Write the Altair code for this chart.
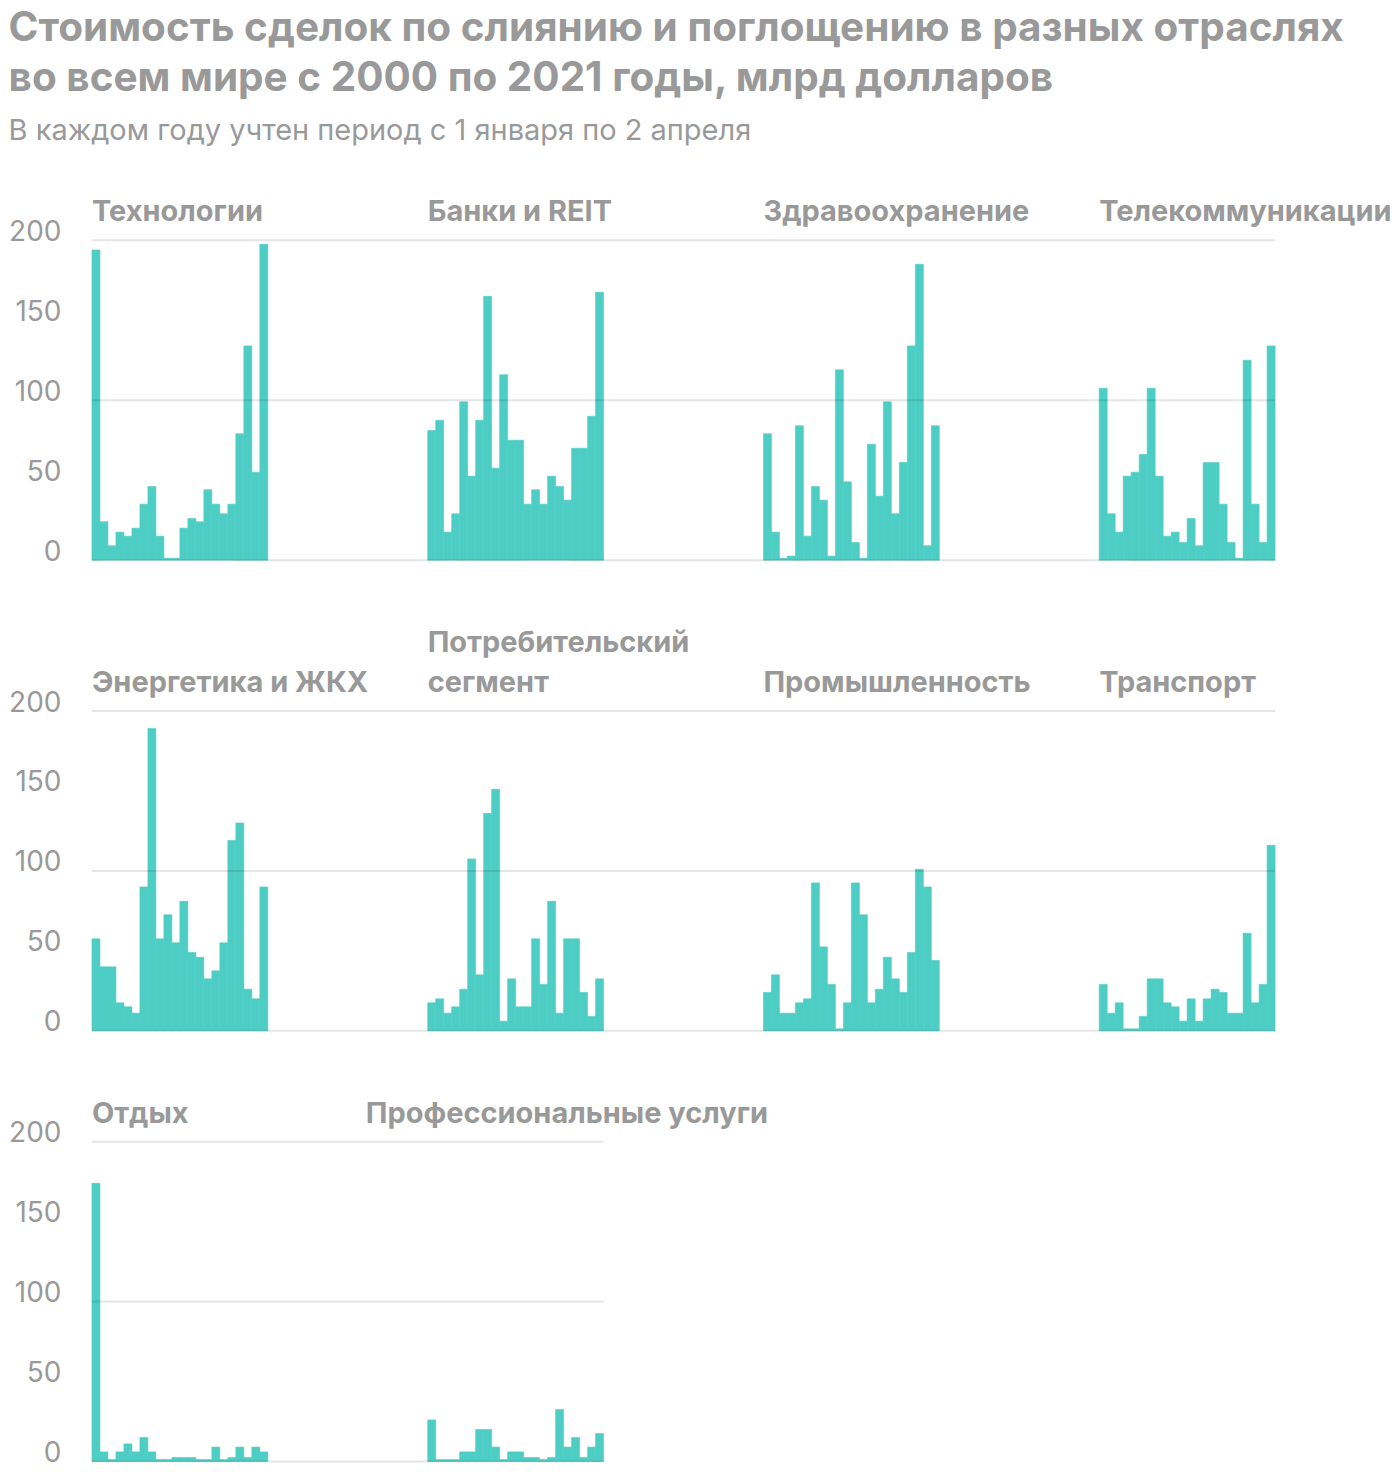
import altair as alt
import pandas as pd

years = list(range(2000, 2022))

sector_names = [
    "Технологии", "Банки и REIT", "Здравоохранение", "Телекоммуникации",
    "Энергетика и ЖКХ", "Потребительский\nсегмент", "Промышленность", "Транспорт",
    "Отдых", "Профессиональные услуги",
]

tech = [194, 24, 9, 17.5, 15, 20, 35, 46, 15, 1.2, 1.2, 20, 26, 24, 44, 35, 29, 35, 79, 134, 55, 197.5]
banks = [81, 87.5, 17.5, 29, 99, 52.5, 87.5, 165, 57.5, 116, 75, 75, 35, 44, 35, 52.5, 46, 37.5, 70, 70, 90, 167.5]
health = [79, 17.5, 1.2, 2.5, 84, 15, 46, 37.5, 2.5, 119, 49, 11, 1.2, 72.5, 40, 99, 29, 61, 134, 185, 9, 84]
telecom = [107.5, 29, 17.5, 52.5, 55, 66, 107.5, 52.5, 15, 17.5, 11, 26, 9, 61, 61, 35, 11, 1.2, 125, 35, 11, 134]
energy = [57.5, 40, 40, 17.5, 15, 11, 90, 189, 57.5, 72.5, 55, 81, 49, 46, 32.5, 37.5, 55, 119, 130, 26, 20, 90]
consumer = [17.5, 20, 11, 15, 26, 107.5, 35, 136, 151, 6, 32.5, 15, 15, 57.5, 29, 81, 11, 57.5, 57.5, 24, 9, 32.5]
industry = [24, 35, 11, 11, 17.5, 20, 92.5, 52.5, 29, 1.2, 17.5, 92.5, 72.5, 17.5, 26, 46, 32.5, 24, 49, 101, 90, 44]
transport = [29, 11, 17.5, 1.2, 1.2, 9, 32.5, 32.5, 17.5, 15, 6, 20, 6, 20, 26, 24, 11, 11, 61, 17.5, 29, 116]
leisure = [174, 6, 1.2, 6, 11, 6, 15, 6, 1.2, 1.2, 2.5, 2.5, 2.5, 1.2, 1.2, 9, 1.2, 2.5, 9, 2.5, 9, 6]
services = [26, 1.2, 1.2, 1.2, 6, 6, 20, 20, 9, 1.2, 6, 6, 2.5, 2.5, 1.2, 2.5, 32.5, 9, 15, 2.5, 9, 17.5]

series = [tech, banks, health, telecom, energy, consumer, industry, transport, leisure, services]

y_ticks = [0, 50, 100, 150, 200]
grid_values = [0, 100, 200]

TEAL = "#4ecdc4"
GREY = "#999999"
FONT = "Inter"
PER_ROW = 4
SLOTS = 42          # slots per panel (22 bars + gap)
title_shift = {"Профессиональные услуги": -7.75}


def row_chart(start):
    idx = list(range(start, min(start + PER_ROW, len(sector_names))))
    recs, trecs = [], []
    for col, k in enumerate(idx):
        for i, (yr, v) in enumerate(zip(years, series[k])):
            recs.append({"sector": sector_names[k], "year": yr, "value": v, "base": 0,
                         "x0": col * SLOTS + i, "x1": col * SLOTS + i + 1})
        lines = sector_names[k].split("\n")
        for j, ln in enumerate(reversed(lines)):
            trecs.append({"label": ln, "lvl": j,
                          "tx": col * SLOTS + title_shift.get(sector_names[k], 0)})
    total = (len(idx) - 1) * SLOTS + len(years)
    df = pd.DataFrame(recs)
    tdf = pd.DataFrame(trecs)
    xs = alt.Scale(domain=[0, total], nice=False, zero=False)
    ys = alt.Scale(domain=[0, 200], nice=False)

    bars = alt.Chart(df).mark_bar(color=TEAL, stroke=TEAL, strokeWidth=0.6).encode(
        x=alt.X("x0:Q", scale=xs, axis=None),
        x2="x1:Q",
        y=alt.Y("value:Q", scale=ys, title=None,
                axis=alt.Axis(values=y_ticks, grid=False, domain=False, ticks=False,
                              labelPadding=31, labelFontSize=28, labelColor=GREY,
                              labelFont=FONT, labelBaseline="alphabetic")),
        y2="base:Q",
    )
    grid = alt.Chart(pd.DataFrame({"g": grid_values})).mark_rule(
        color="#000000", opacity=0.1, strokeWidth=2
    ).encode(y=alt.Y("g:Q", scale=ys, title=None))

    base_t = alt.Chart(tdf).encode(x=alt.X("tx:Q", scale=xs, axis=None), y=alt.value(0), text="label:N")
    t0 = base_t.transform_filter("datum.lvl == 0").mark_text(
        align="left", baseline="alphabetic", fontSize=29, fontWeight="bold",
        color=GREY, font=FONT, dy=-19)
    t1 = base_t.transform_filter("datum.lvl == 1").mark_text(
        align="left", baseline="alphabetic", fontSize=29, fontWeight="bold",
        color=GREY, font=FONT, dy=-59)
    return alt.layer(bars, grid, t0, t1).properties(width=total * 8, height=320)


rows = [row_chart(s) for s in range(0, len(sector_names), PER_ROW)]

chart = alt.vconcat(*rows, spacing=63).properties(
    title=alt.TitleParams(
        text=["Стоимость сделок по слиянию и поглощению в разных отраслях",
              "во всем мире с 2000 по 2021 годы, млрд долларов"],
        subtitle="В каждом году учтен период с 1 января по 2 апреля",
        anchor="start", frame="bounds", font=FONT, fontSize=40.5, fontWeight="bold",
        color=GREY, lineHeight=50, subtitleFont=FONT, subtitleFontSize=29,
        subtitleColor=GREY, subtitlePadding=18, offset=52,
    ),
    padding=0,
    background="white",
).configure_view(stroke=None, strokeWidth=0)

chart.save("out.html", embed_options={"renderer": "svg", "actions": False})
